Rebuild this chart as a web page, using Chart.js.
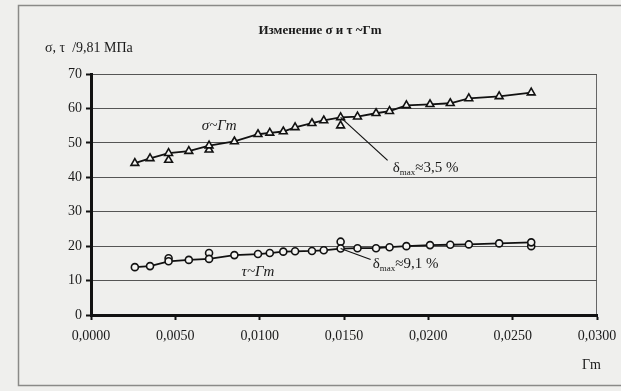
<!DOCTYPE html>
<html>
<head>
<meta charset="utf-8">
<script src="https://cdn.jsdelivr.net/npm/chart.js@4.4.1/dist/chart.umd.min.js"></script>
<style>
  html, body { margin: 0; padding: 0; background: #efefed; }
  #wrap { width: 621px; height: 391px; position: relative; }
</style>
</head>
<body>
<div id="wrap"><canvas id="chart" width="621" height="391"></canvas></div>
<script>
// Γm values (shared by both curves)
const gm = [0.0026, 0.0035, 0.0046, 0.0058, 0.0070, 0.0085, 0.0099, 0.0106, 0.0114, 0.0121, 0.0131,
            0.0138, 0.0148, 0.0158, 0.0169, 0.0177, 0.0187, 0.0201, 0.0213, 0.0224, 0.0242, 0.0261];
// σ/9.81, MPa
const sigma = [44.1, 45.5, 47.0, 47.6, 49.2, 50.4, 52.5, 52.9, 53.3, 54.5, 55.7,
               56.5, 57.4, 57.6, 58.6, 59.2, 60.9, 61.2, 61.5, 62.9, 63.5, 64.6];
// τ/9.81, MPa
const tau = [13.9, 14.2, 15.6, 16.0, 16.3, 17.4, 17.7, 18.0, 18.4, 18.5, 18.6,
             18.8, 19.3, 19.4, 19.4, 19.7, 20.0, 20.3, 20.4, 20.5, 20.8, 21.1];
// measured points that fall off the curves
const sigmaOffX = [0.0046, 0.0070, 0.0148];
const sigmaOffY = [45.0, 48.0, 55.0];
const tauOffX = [0.0046, 0.0070, 0.0148, 0.0261];
const tauOffY = [16.5, 18.0, 21.3, 20.0];

const xTicks = [0, 0.005, 0.01, 0.015, 0.02, 0.025, 0.03];
const yTicks = [0, 10, 20, 30, 40, 50, 60, 70];

const titleText = "Изменение σ и τ ~Γm";
const yTitle = "σ, τ  /9,81 МПа";
const xTitle = "Γm";

const SERIF = "'Liberation Serif', 'DejaVu Serif', serif";
const pts = (xs, ys) => xs.map((x, i) => ({ x, y: ys[i] }));

const frame = {
  id: "frame",
  beforeDraw(chart) {
    const { ctx, chartArea: a } = chart;
    ctx.save();
    ctx.strokeStyle = "#8a8a88";
    ctx.lineWidth = 1.5;
    ctx.strokeRect(18.5, 5.5, 620, 380);
    ctx.strokeStyle = "#666";
    ctx.lineWidth = 1;
    ctx.strokeRect(a.left, a.top + 0.5, a.right - a.left - 0.5, a.bottom - a.top);
    ctx.restore();
  },
  afterDraw(chart) {
    const { ctx } = chart;
    ctx.save();
    ctx.fillStyle = "#1a1a1a";
    ctx.font = "bold 13px " + SERIF;
    ctx.textAlign = "center";
    ctx.textBaseline = "middle";
    ctx.fillText(titleText, 320, 31);
    ctx.font = "14px " + SERIF;
    ctx.textAlign = "left";
    ctx.fillText(yTitle, 45, 48);
    ctx.fillText(xTitle, 582, 365);
    ctx.restore();
  }
};

function delta(ctx, x, y, rest) {
  ctx.font = "15px " + SERIF;
  ctx.textAlign = "left";
  ctx.textBaseline = "alphabetic";
  ctx.fillText("δ", x, y);
  let w = ctx.measureText("δ").width;
  ctx.font = "9px " + SERIF;
  ctx.fillText("max", x + w, y + 3);
  w += ctx.measureText("max").width;
  ctx.font = "15px " + SERIF;
  ctx.fillText(rest, x + w, y);
}

const notes = {
  id: "notes",
  afterDatasetsDraw(chart) {
    const { ctx, scales: { x, y } } = chart;
    ctx.save();
    ctx.strokeStyle = "#111";
    ctx.fillStyle = "#1a1a1a";
    ctx.lineWidth = 1.2;
    // σ leader
    const sx = x.getPixelForValue(gm[12]), sy = y.getPixelForValue(sigma[12]);
    ctx.beginPath(); ctx.moveTo(sx, sy); ctx.lineTo(sx + 47, sy + 43); ctx.stroke();
    delta(ctx, sx + 52, sy + 55, "≈3,5 %");
    // τ leader
    const tx = x.getPixelForValue(gm[12]), ty = y.getPixelForValue(tau[12]);
    ctx.beginPath(); ctx.moveTo(tx, ty); ctx.lineTo(tx + 30, ty + 11); ctx.stroke();
    delta(ctx, tx + 32, ty + 19, "≈9,1 %");
    // curve labels
    ctx.font = "italic 15px " + SERIF;
    ctx.textAlign = "center";
    ctx.textBaseline = "middle";
    ctx.fillText("σ~Γm", x.getPixelForValue(0.0076), y.getPixelForValue(55));
    ctx.fillText("τ~Γm", x.getPixelForValue(0.0099), y.getPixelForValue(12.6));
    ctx.restore();
  }
};

const lineDs = (data, style, r) => ({
  data, showLine: true, borderColor: "#111", borderWidth: 1.8,
  pointStyle: style, pointRadius: r, pointBackgroundColor: "#f4f4f2",
  pointBorderColor: "#111", pointBorderWidth: 1.6
});
const offDs = (data, style, r) => ({
  data, showLine: false, pointStyle: style, pointRadius: r,
  pointBackgroundColor: "#f4f4f2", pointBorderColor: "#111", pointBorderWidth: 1.6
});

new Chart(document.getElementById("chart"), {
  type: "scatter",
  data: {
    datasets: [
      lineDs(pts(gm, sigma), "triangle", 4.5),
      offDs(pts(sigmaOffX, sigmaOffY), "triangle", 4.5),
      lineDs(pts(gm, tau), "circle", 3.5),
      offDs(pts(tauOffX, tauOffY), "circle", 3.5)
    ]
  },
  options: {
    responsive: false,
    animation: false,
    layout: { padding: { left: 0, right: 24, top: 74, bottom: 0 } },
    plugins: { legend: { display: false }, tooltip: { enabled: false } },
    scales: {
      x: {
        type: "linear", min: 0, max: 0.03,
        afterBuildTicks: s => { s.ticks = xTicks.map(v => ({ value: v })); },
        afterFit: s => { s.height = 76; s.paddingLeft = 0; s.paddingRight = 0; },
        ticks: {
          color: "#1a1a1a", font: { family: SERIF, size: 14 }, padding: 8, maxRotation: 0,
          callback: v => v.toFixed(4).replace(".", ",")
        },
        grid: { drawOnChartArea: false, drawTicks: true, tickLength: 5, tickColor: "#111", tickWidth: 2 },
        border: { color: "#111", width: 3 }
      },
      y: {
        type: "linear", min: 0, max: 70,
        afterBuildTicks: s => { s.ticks = yTicks.map(v => ({ value: v })); },
        afterFit: s => { s.width = 91; s.paddingTop = 0; s.paddingBottom = 0; },
        ticks: { color: "#1a1a1a", font: { family: SERIF, size: 14 }, padding: 4 },
        grid: { color: "#555", lineWidth: 1, drawTicks: true, tickLength: 5, tickColor: "#111", tickWidth: 2 },
        border: { color: "#111", width: 3 }
      }
    }
  },
  plugins: [frame, notes]
});
</script>
</body>
</html>
